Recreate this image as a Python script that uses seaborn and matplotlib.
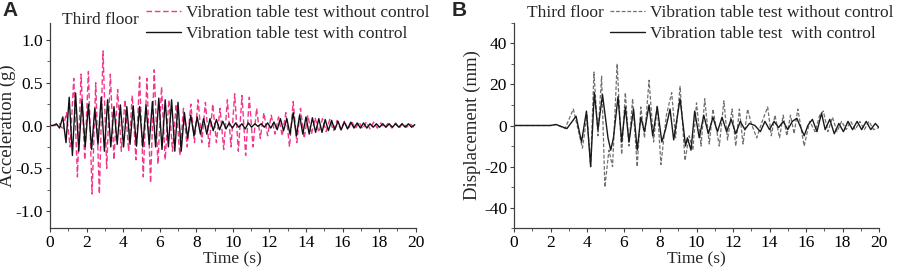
import numpy as np
import pandas as pd
import seaborn as sns
import matplotlib.pyplot as plt
from matplotlib.ticker import MultipleLocator

# ---- data (extrema of the records) ----
# panel A: acceleration (g); sample times on a regular grid of the peaks
dt_acc_on = 0.175
acc_on = [
    0, 0, 0.02, -0.03, 0.1, -0.2, 0.33, -0.35, 0.38, -0.3,
    0.3, -0.25, 0.25, -0.28, 0.2, -0.22, 0.33, -0.3, 0.3, -0.25,
    0.22, -0.22, 0.24, -0.25, 0.22, -0.22, 0.23, -0.24, 0.22, -0.25,
    0.24, -0.22, 0.28, -0.25, 0.32, -0.28, 0.3, -0.25, 0.3, -0.3,
    0.27, -0.3, 0.15, -0.15, 0.12, -0.12, 0.1, -0.1, 0.08, -0.1,
    0.08, -0.06, 0.07, -0.05, 0.05, -0.04, 0.03, -0.03, 0.03, -0.02,
    0.02, -0.04, 0.03, -0.02, 0.02, -0.01, 0.02, -0.02, 0.03, -0.03,
    0.04, -0.05, 0.08, -0.06, 0.08, -0.1, 0.15, -0.12, 0.12, -0.1,
    0.1, -0.1, 0.09, -0.08, 0.08, -0.08, 0.07, -0.06, 0.06, -0.05,
    0.05, -0.05, 0.04, -0.04, 0.04, -0.03, 0.03, -0.03, 0.03, -0.03,
    0.02, -0.02, 0.02, -0.02, 0.02, -0.02, 0.02, -0.02, 0.02, -0.02,
    0.02, -0.02, 0.02, -0.02, 0.01]

t0_acc_off, dt_acc_off = 0.1, 0.2
acc_off = [
    0, 0, 0.03, -0.05, 0.15, -0.25, 0.55, -0.6, 0.6, -0.4,
    0.63, -0.8, 0.5, -0.8, 0.87, -0.5, 0.6, -0.4, 0.42, -0.3,
    0.3, -0.3, 0.35, -0.4, 0.57, -0.6, 0.55, -0.67, 0.65, -0.45,
    0.45, -0.4, 0.3, -0.3, 0.25, -0.35, 0.2, -0.25, 0.25, -0.2,
    0.3, -0.2, 0.27, -0.25, 0.25, -0.2, 0.2, -0.28, 0.3, -0.25,
    0.37, -0.3, 0.35, -0.35, 0.33, -0.25, 0.2, -0.15, 0.15, -0.12,
    0.12, -0.1, 0.1, -0.12, 0.15, -0.25, 0.28, -0.2, 0.2, -0.15,
    0.12, -0.1, 0.09, -0.08, 0.08, -0.07, 0.07, -0.06, 0.06, -0.05,
    0.05, -0.05, 0.05, -0.04, 0.04, -0.04, 0.04, -0.04, 0.04, -0.03,
    0.03, -0.03, 0.03, -0.03, 0.03, -0.03, 0.03, -0.02, 0.02, -0.02]

# panel B: displacement (mm)
t_disp_off = [
    0.0, 2.0, 2.3, 2.8, 3.25, 3.75, 4.0, 4.2, 4.38, 4.6,
    4.8, 4.98, 5.2, 5.4, 5.65, 5.9, 6.1, 6.3, 6.5, 6.75,
    6.95, 7.15, 7.4, 7.65, 7.85, 8.05, 8.35, 8.64, 8.85, 9.1,
    9.37, 9.6, 9.8, 10.0, 10.25, 10.45, 10.7, 10.9, 11.25, 11.5,
    11.7, 11.95, 12.15, 12.35, 12.55, 12.8, 13.0, 13.3, 13.6, 13.9,
    14.1, 14.3, 14.55, 14.75, 14.95, 15.15, 15.35, 15.55, 15.9, 16.2,
    16.5, 16.75, 16.95, 17.2, 17.45, 17.7, 17.95, 18.2, 18.45, 18.7,
    18.95, 19.2, 19.45, 19.7, 20.0]
disp_off = [
    0, 0, 0.5, -1.5, 8, -11, 5, -20, 26, -5,
    24, -30, -12, -20, 30, -14, 16, -10, 13, -20,
    9, -6, 22, -8, 10, -19, 5, 16, -6, 19,
    -17, -5, -12, 11, -10, 13, -9, 8, -10, 12,
    -7, 8, -10, 8, -9, 8, 1, -6, 2, 9,
    -5, 5, -6, 5, -5, 5, -4, 8, -10, 2,
    -3, 5, 7, -3, 4, -3, 2, -2, 2, -2,
    2, -2, 2, -2, -1]

t_disp_on = [
    0.0, 2.0, 2.3, 2.9, 3.4, 3.7, 3.97, 4.2, 4.4, 4.6,
    4.85, 5.15, 5.3, 5.45, 5.7, 5.9, 6.1, 6.3, 6.55, 6.75,
    6.95, 7.15, 7.4, 7.6, 7.85, 8.1, 8.3, 8.55, 8.75, 9.1,
    9.4, 9.5, 9.7, 9.9, 10.15, 10.4, 10.65, 10.9, 11.15, 11.4,
    11.65, 11.9, 12.15, 12.4, 12.65, 12.9, 13.2, 13.5, 13.75, 14.0,
    14.25, 14.5, 14.75, 15.0, 15.25, 15.5, 15.9, 16.1, 16.35, 16.6,
    16.85, 17.05, 17.3, 17.55, 17.8, 18.05, 18.3, 18.55, 18.8, 19.05,
    19.3, 19.55, 19.8, 20.0]
disp_on = [
    0, 0, 0.5, -1.5, 4.5, -8, 7, -20, 16, -2,
    15, -6, -12, -6, 14, -8, 9, -8, 8, -12,
    4, -3, 10, -5, 9, -8, -2, 8, -7, 13,
    -10, -6, -12, 7, -6, 5, -4, 4, -3, 4,
    -3, 3, -4, 2, -2, 1, 0, -3, 2, -2,
    2, -1, 2, -2, 2, 3.5, -5, 0, 3, -3,
    6, -2, 3, -4, 1, -3, 2, -2, 2, -2,
    2, -2, 1, -1]

lab_off = "Vibration table test without control"
lab_on_a = "Vibration table test with control"
lab_on_b = "Vibration table test  with control"

# ---- frames ----
df_acc_on = pd.DataFrame({"t": np.arange(len(acc_on)) * dt_acc_on, "v": acc_on})
df_acc_off = pd.DataFrame({"t": t0_acc_off + np.arange(len(acc_off)) * dt_acc_off, "v": acc_off})
df_disp_off = pd.DataFrame({"t": t_disp_off, "v": disp_off})
df_disp_on = pd.DataFrame({"t": t_disp_on, "v": disp_on})

sns.set_style("ticks")
plt.rcParams['font.family'] = ['Liberation Serif', 'DejaVu Serif']
plt.rcParams['font.size'] = 12.5
plt.rcParams['axes.unicode_minus'] = False

FS = 12.5
W, H = 899, 274
fig = plt.figure(figsize=(W / 100, H / 100), dpi=100)
bot, top = 228.3, 22.7
axA = fig.add_axes([50 / W, (H - bot) / H, 365.7 / W, (bot - top) / H])
axB = fig.add_axes([514 / W, (H - bot) / H, 365.0 / W, (bot - top) / H])

pink = "#f2378d"
sns.lineplot(data=df_acc_off, x="t", y="v", ax=axA, color=pink, lw=1.0,
             linestyle=(0, (4, 2)), label=lab_off, estimator=None)
sns.lineplot(data=df_acc_on, x="t", y="v", ax=axA, color="#111111", lw=1.0,
             label=lab_on_a, estimator=None)

sns.lineplot(data=df_disp_off, x="t", y="v", ax=axB, color="#707070", lw=0.9,
             linestyle=(0, (3, 1.5)), label=lab_off, estimator=None)
sns.lineplot(data=df_disp_on, x="t", y="v", ax=axB, color="#1a1a1a", lw=1.0,
             label=lab_on_b, estimator=None)

for ax in (axA, axB):
    ax.set_xlim(0, 20)
    ax.xaxis.set_major_locator(MultipleLocator(2))
    ax.xaxis.set_minor_locator(MultipleLocator(1))
    sns.despine(ax=ax)
    for s in ('left', 'bottom'):
        ax.spines[s].set_linewidth(0.9)
        ax.spines[s].set_color('0.25')
    ax.tick_params(which='major', direction='out', length=3, width=0.8,
                   labelsize=FS, pad=2, colors='0.25', labelcolor='black')
    ax.tick_params(which='minor', direction='out', length=2, width=0.6, colors='0.25')
    ax.set_xlabel("Time (s)", fontsize=FS, labelpad=0)
    leg = ax.legend(loc='upper left', bbox_to_anchor=(0.263, 1.085), frameon=False,
                    fontsize=FS, handlelength=2.0, handletextpad=0.3,
                    labelspacing=0.28, borderpad=0, borderaxespad=0)

axA.set_ylim(-1.2, 1.2)
axA.set_yticks([-1.0, -0.5, 0.0, 0.5, 1.0])
axA.set_yticklabels(["-1.0", "-0.5", "0.0", "0.5", "1.0"])
axA.yaxis.set_minor_locator(MultipleLocator(0.25))
axA.set_ylabel("Acceleration (g)", fontsize=13.5, labelpad=0)

axB.set_ylim(-50, 50)
axB.set_yticks([-40, -20, 0, 20, 40])
axB.yaxis.set_minor_locator(MultipleLocator(10))
axB.set_ylabel("Displacement (mm)", fontsize=13.5, labelpad=2)

# panel tags and floor labels
fig.text(2 / W, 1 - 11 / H, "A", fontsize=15, fontweight='bold',
         family=['Liberation Sans', 'DejaVu Sans'], va='center', ha='left')
fig.text(452 / W, 1 - 11 / H, "B", fontsize=15, fontweight='bold',
         family=['Liberation Sans', 'DejaVu Sans'], va='center', ha='left')
fig.text(62 / W, 1 - 20 / H, "Third floor", fontsize=FS, va='center', ha='left')
fig.text(527 / W, 1 - 13 / H, "Third floor", fontsize=FS, va='center', ha='left')

fig.savefig("out.png", dpi=100)
